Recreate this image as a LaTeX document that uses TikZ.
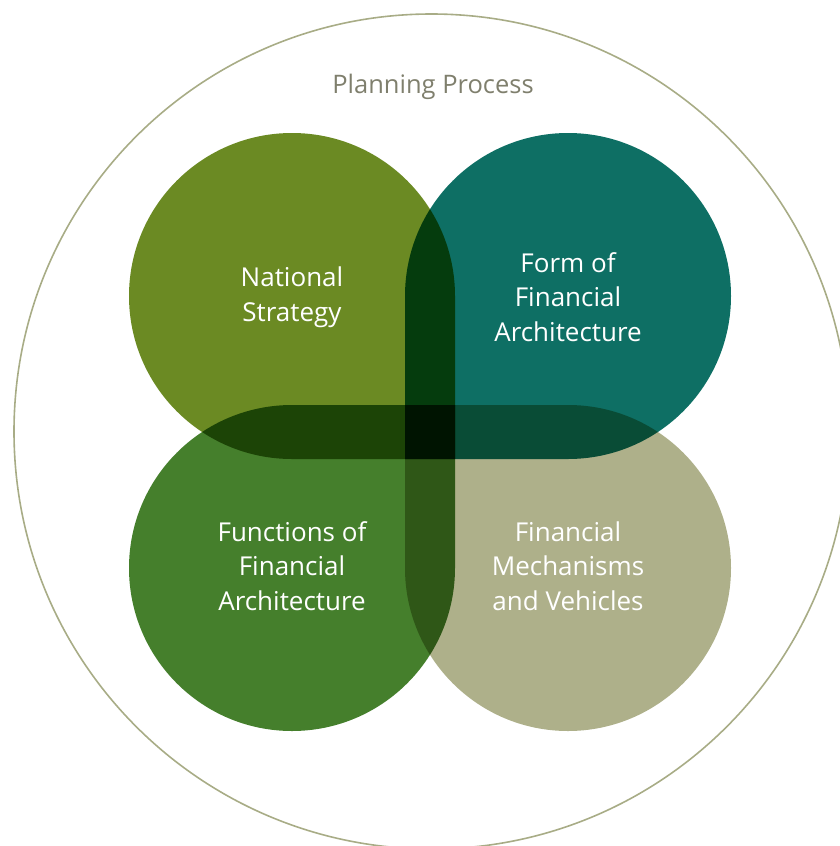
\documentclass[tikz,border=0pt]{standalone}
\usepackage{fontspec}
\newfontfamily\labelfont{Open Sans}
\definecolor{olivestrat}{HTML}{6B8A23}
\definecolor{tealform}{HTML}{0E6F64}
\definecolor{greenfunc}{HTML}{457F2C}
\definecolor{khakimech}{HTML}{AEB08A}
\definecolor{ringline}{HTML}{A8AC86}
\definecolor{plantext}{HTML}{7F7F6D}
\begin{document}
\begin{tikzpicture}
  [x=1pt,y=-1pt,
   petal/.style={blend mode=multiply},
   lbl/.style={text=white,align=center,inner sep=0pt,
     font=\labelfont\fontsize{26}{34.5}\selectfont}]
  \useasboundingbox (0,0) rectangle (840,846);
  % outer ring, cut off by the page
  \begin{scope}
    \clip (0,0) rectangle (840,846);
    \draw[ringline,line width=1.6pt] (431.5,431.5) circle (417.5);
  \end{scope}
  \node (plan) at (433,87) [text=plantext,inner sep=0pt,
    font=\labelfont\fontsize{25.5}{30}\selectfont] {Planning Process};
  % four petals: a circle with a square corner toward the middle
  \fill[petal,olivestrat] (292,296) ++(90:163)
    arc[start angle=90,end angle=360,radius=163] -- (455,459) -- cycle;
  \fill[petal,tealform] (568,296) ++(180:163)
    arc[start angle=180,end angle=450,radius=163] -- (405,459) -- cycle;
  \fill[petal,greenfunc] (292,568) ++(0:163)
    arc[start angle=0,end angle=270,radius=163] -- (455,405) -- cycle;
  \fill[petal,khakimech] (568,568) ++(270:163)
    arc[start angle=270,end angle=540,radius=163] -- (405,405) -- cycle;
  \node[lbl] (strat) at (292,297) {National\\Strategy};
  \node[lbl] (form) at (568,297) {Form of\\Financial\\Architecture};
  \node[lbl] (func) at (292,566) {Functions of\\Financial\\Architecture};
  \node[lbl] (mech) at (568,566) {Financial\\Mechanisms\\and Vehicles};
\end{tikzpicture}
\end{document}
